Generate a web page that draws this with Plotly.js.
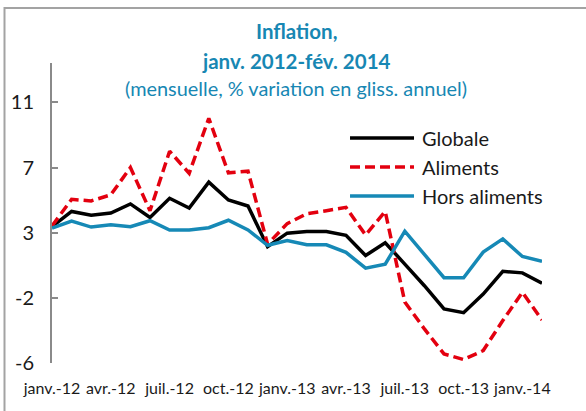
<!DOCTYPE html>
<html>
<head>
<meta charset="utf-8">
<script src="https://cdn.plot.ly/plotly-3.0.1.min.js"></script>
<style>
  html, body { margin: 0; padding: 0; background: #ffffff; }
  #chart { width: 586px; height: 411px; }
</style>
</head>
<body>
<div id="chart"></div>
<script>
// Months (janv. 2012 - févr. 2014)
const months = [
  "janv.-12","févr.-12","mars-12","avr.-12","mai-12","juin-12","juil.-12","août-12","sept.-12","oct.-12","nov.-12","déc.-12",
  "janv.-13","févr.-13","mars-13","avr.-13","mai-13","juin-13","juil.-13","août-13","sept.-13","oct.-13","nov.-13","déc.-13",
  "janv.-14","févr.-14"
];

// Series (% variation en glissement annuel)
const globale = [3.0, 4.0, 3.75, 3.9, 4.5, 3.6, 4.87, 4.23, 5.94, 4.76, 4.36, 1.68,
                 2.57, 2.68, 2.68, 2.43, 1.09, 1.94, 0.53, -0.9, -2.43, -2.68, -1.45, 0.05,
                 -0.05, -0.74];
const aliments = [3.05, 4.8, 4.7, 5.1, 6.9, 4.05, 7.98, 6.52, 10.15, 6.55, 6.66, 1.84,
                  3.2, 3.85, 4.05, 4.27, 2.45, 4.0, -1.97, -3.75, -5.4, -5.77, -5.18, -3.2,
                  -1.34, -3.16];
const horsAliments = [2.9, 3.37, 2.97, 3.13, 3.0, 3.39, 2.78, 2.78, 2.93, 3.42, 2.78, 1.77,
                      2.08, 1.8, 1.8, 1.3, 0.26, 0.52, 2.7, 1.2, -0.37, -0.37, 1.32, 2.19,
                      1.03, 0.72];

// Axis labels
const xTickVals = ["janv.-12","avr.-12","juil.-12","oct.-12","janv.-13","avr.-13","juil.-13","oct.-13","janv.-14"];
const xTickText = ["janv.-12","avr.-12","juil.-12","oct.-12","janv.-13","avr.-13","juil.-13","oct.-13","janv.-14"];
const yTickVals = [-6, -1.7, 2.6, 6.9, 11.2];
const yTickText = ["-6", "-2", "3", "7", "11"];
const yRange = [-6, 13.8];

const FONT = "Lato, 'Open Sans', sans-serif";
const BLUE = "#1689b6";
const TITLE_BLUE = "#1787b3";
const RED = "#e3000f";
const AXIS_GRAY = "#8a8a8a";

const data = [
  { x: months, y: globale, name: "Globale", type: "scatter", mode: "lines",
    line: { color: "#000000", width: 3.5 } },
  { x: months, y: aliments, name: "Aliments", type: "scatter", mode: "lines",
    line: { color: RED, width: 3.5, dash: "10px,5px" } },
  { x: months, y: horsAliments, name: "Hors aliments", type: "scatter", mode: "lines",
    line: { color: BLUE, width: 3.5 } }
];

const zeroFrac = (0 - yRange[0]) / (yRange[1] - yRange[0]);

const layout = {
  width: 586, height: 411,
  margin: { l: 52, r: 44, t: 63, b: 48 },
  paper_bgcolor: "#ffffff",
  plot_bgcolor: "rgba(0,0,0,0)",
  font: { family: FONT, color: "#1a1a1a" },
  showlegend: true,
  legend: {
    x: 0.598, xanchor: "left", y: 0.815, yanchor: "top",
    font: { family: FONT, size: 20, color: "#1a1a1a" },
    bgcolor: "rgba(0,0,0,0)", itemwidth: 67,
    tracegroupgap: 0
  },
  xaxis: {
    type: "category",
    categoryorder: "array", categoryarray: months,
    range: [0, months.length - 1],
    tickmode: "array", tickvals: xTickVals, ticktext: xTickText,
    ticks: "", showline: false, showgrid: false, zeroline: false,
    tickfont: { family: FONT, size: 16, color: "#1a1a1a" },
    ticklabelstandoff: 14
  },
  xaxis2: {
    type: "category",
    overlaying: "x", matches: "x", anchor: "free", position: zeroFrac, side: "bottom",
    categoryorder: "array", categoryarray: months,
    range: [0, months.length - 1],
    tickmode: "array", tickvals: xTickVals,
    ticks: "inside", ticklen: 6, tickwidth: 2, tickcolor: AXIS_GRAY,
    showline: true, linecolor: AXIS_GRAY, linewidth: 2,
    showticklabels: false, showgrid: false, zeroline: false
  },
  yaxis: {
    range: yRange,
    tickmode: "array", tickvals: yTickVals, ticktext: yTickText,
    ticks: "inside", ticklen: 6, tickwidth: 2, tickcolor: AXIS_GRAY,
    showline: true, linecolor: AXIS_GRAY, linewidth: 2,
    showgrid: false, zeroline: false,
    tickfont: { family: FONT, size: 20, color: "#1a1a1a" },
    ticklabelstandoff: 12
  },
  annotations: [
    { text: "<b>Inflation,</b>", xref: "paper", yref: "paper", x: 0.498, y: (363 - 31) / 300,
      xanchor: "center", yanchor: "middle", showarrow: false,
      font: { family: FONT, size: 20.5, color: TITLE_BLUE } },
    { text: "<b>janv. 2012-fév. 2014</b>", xref: "paper", yref: "paper", x: 0.498, y: (363 - 61) / 300,
      xanchor: "center", yanchor: "middle", showarrow: false,
      font: { family: FONT, size: 20.5, color: TITLE_BLUE } },
    { text: "(mensuelle, % variation en gliss. annuel)", xref: "paper", yref: "paper", x: 0.498, y: (363 - 88) / 300,
      xanchor: "center", yanchor: "middle", showarrow: false,
      font: { family: FONT, size: 19.9, color: TITLE_BLUE } }
  ],
  shapes: [
    { type: "rect", xref: "paper", yref: "paper",
      x0: (4.5 - 52) / 490, x1: 1.2, y0: -0.3, y1: (363 - 8) / 300,
      line: { color: "#a3a3a3", width: 2 }, fillcolor: "rgba(0,0,0,0)", layer: "below" }
  ]
};

Plotly.newPlot("chart", data, layout, { staticPlot: true, displayModeBar: false }).then(function (gd) {
  gd.querySelectorAll(".legend .legendlines path.js-line").forEach(function (p) {
    p.setAttribute("d", "M5,0h64");
  });
});
</script>
</body>
</html>
